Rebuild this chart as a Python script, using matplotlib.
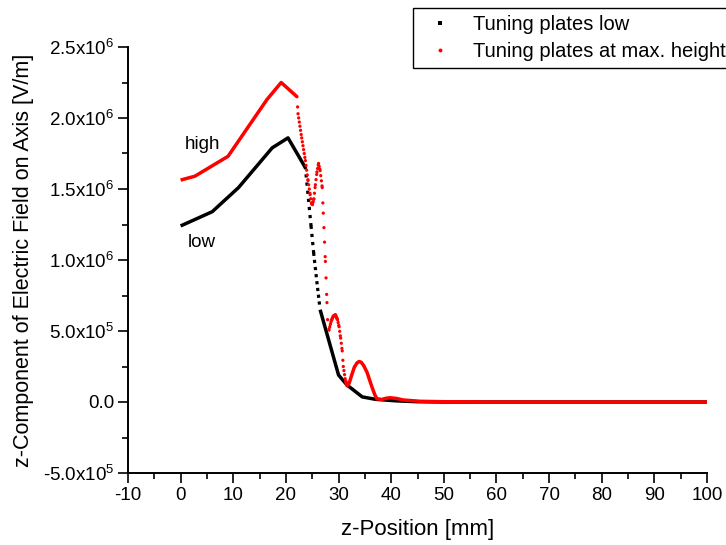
import numpy as np
import matplotlib
matplotlib.use("Agg")
import matplotlib.pyplot as plt
from matplotlib.lines import Line2D
from matplotlib.ticker import FuncFormatter, MultipleLocator

plt.rcParams["font.family"] = ["Liberation Sans", "DejaVu Sans"]
plt.rcParams["mathtext.fontset"] = "custom"
plt.rcParams["mathtext.rm"] = "Liberation Sans"
plt.rcParams["mathtext.it"] = "Liberation Sans"
plt.rcParams["axes.unicode_minus"] = False
plt.rcParams["lines.scale_dashes"] = False

# z-position [mm] and E_z on axis [V/m], tuning plates low
z_low = [0.0, 6.0, 11.0, 17.4, 20.4, 23.7, 24.3, 24.8, 25.3, 25.9, 26.5,
         30.0, 31.6, 34.5, 37.0, 41.0, 45.0, 50.0, 60.0, 70.0, 80.0, 90.0, 100.0]
e_low = [1.24e6, 1.34e6, 1.51e6, 1.79e6, 1.86e6, 1.65e6, 1.42e6, 1.23e6, 1.04e6,
         0.84e6, 0.65e6, 0.19e6, 0.12e6, 0.036e6, 0.019e6, 0.008e6, 0.002e6,
         0.0, 0.0, 0.0, 0.0, 0.0, 0.0]

# tuning plates at maximum height
z_high = [0.0, 2.7, 9.0, 16.4, 19.1, 22.1, 22.3, 23.0, 23.7, 24.2, 24.6, 24.85,
          25.05, 25.3, 25.6, 25.9, 26.2, 26.5, 26.9, 27.1, 27.5, 27.8, 28.0,
          28.2, 28.6, 29.0, 29.4, 29.8, 30.1, 30.4, 30.7, 30.9, 31.3, 31.6,
          32.0, 32.5, 33.0, 33.5, 33.9, 34.3, 34.8, 35.4, 35.9, 36.4, 36.9,
          37.3, 38.2, 39.0, 39.8, 41.0, 42.3, 45.5, 50.0, 60.0, 70.0, 80.0,
          90.0, 100.0]
e_high = [1.563e6, 1.59e6, 1.73e6, 2.13e6, 2.25e6, 2.15e6, 2.03e6, 1.86e6,
          1.70e6, 1.56e6, 1.46e6, 1.40e6, 1.39e6, 1.43e6, 1.53e6, 1.62e6,
          1.68e6, 1.63e6, 1.51e6, 1.33e6, 0.99e6, 0.70e6, 0.50e6, 0.51e6,
          0.57e6, 0.605e6, 0.615e6, 0.58e6, 0.53e6, 0.45e6, 0.36e6, 0.25e6,
          0.155e6, 0.115e6, 0.13e6, 0.19e6, 0.245e6, 0.275e6, 0.285e6, 0.28e6,
          0.255e6, 0.21e6, 0.155e6, 0.10e6, 0.05e6, 0.022e6, 0.018e6, 0.026e6,
          0.03e6, 0.025e6, 0.014e6, 0.005e6, 0.002e6, 0.0, 0.0, 0.0, 0.0, 0.0]

x_ticks = [-10, 0, 10, 20, 30, 40, 50, 60, 70, 80, 90, 100]
y_ticks = [-5e5, 0.0, 5e5, 1e6, 1.5e6, 2e6, 2.5e6]

W, H = 726, 545
fig = plt.figure(figsize=(W / 100, H / 100), dpi=100)
ax = fig.add_axes([128 / W, 1 - 473 / H, (707 - 128) / W, (473 - 47) / H])
ax.set_xlim(-10, 100)
ax.set_ylim(-5e5, 2.5e6)


def draw_series(z, e, color, cap, lw_line, lw_dot, step, zorder):
    """Solid polyline where the samples merge, separate dots on steep parts."""
    z = np.asarray(z, float)
    e = np.asarray(e, float)
    pts = ax.transData.transform(np.column_stack([z, e]))
    pt_per_px = 72 / fig.dpi
    run_x, run_y = [z[0]], [e[0]]

    def flush():
        if len(run_x) > 1:
            ax.plot(run_x, run_y, color=color, lw=lw_line,
                    solid_joinstyle="round", solid_capstyle="butt",
                    zorder=zorder, clip_on=False)

    for i in range(len(z) - 1):
        dx = pts[i + 1, 0] - pts[i, 0]
        dy = pts[i + 1, 1] - pts[i, 1]
        steep = abs(dy) > 4.0 * abs(dx)
        if steep:
            flush()
            run_x, run_y = [z[i + 1]], [e[i + 1]]
            n = max((z[i + 1] - z[i]) / step, 1.0)
            gap = np.hypot(dx, dy) / n * pt_per_px
            ax.plot([z[i], z[i + 1]], [e[i], e[i + 1]], color=color,
                    lw=lw_dot, linestyle=(0, (0.01, gap)),
                    dash_capstyle=cap, zorder=zorder)
        else:
            run_x.append(z[i + 1])
            run_y.append(e[i + 1])
    flush()


draw_series(z_low, e_low, "black", "projecting", 2.5, 2.3, 0.15, 3)
draw_series(z_high, e_high, "#ff0000", "round", 2.5, 2.4, 0.12, 4)

ax.text(0.8, 1.81e6, "high", fontsize=13.5, va="center", ha="left")
ax.text(1.4, 1.12e6, "low", fontsize=13.5, va="center", ha="left")


def sci_fmt(v, _pos):
    if v == 0:
        return "0.0"
    exp = int(np.floor(np.log10(abs(v))))
    mant = v / 10 ** exp
    return f"{mant:.1f}x10$^{{{exp}}}$"


ax.set_xticks(x_ticks)
ax.set_yticks(y_ticks)
ax.xaxis.set_minor_locator(MultipleLocator(5))
ax.yaxis.set_minor_locator(MultipleLocator(2.5e5))
ax.yaxis.set_major_formatter(FuncFormatter(sci_fmt))
ax.tick_params(which="major", direction="out", length=7, width=1.2,
               labelsize=13.5, pad=3)
ax.tick_params(which="minor", direction="out", length=4, width=1.2)

for side in ("top", "right"):
    ax.spines[side].set_visible(False)
for side in ("left", "bottom"):
    ax.spines[side].set_linewidth(1.4)

ax.set_xlabel("z-Position [mm]", fontsize=16, labelpad=11)
ax.set_ylabel("z-Component of Electric Field on Axis [V/m]", fontsize=15.5,
              labelpad=6)

handles = [
    Line2D([], [], ls="none", marker="s", ms=2.5, color="black", mew=0),
    Line2D([], [], ls="none", marker="o", ms=2.8, color="#ff0000", mew=0),
]
fig.legend(handles, ["Tuning plates low", "Tuning plates at max. height"],
           loc="upper left", bbox_to_anchor=(413 / W, 1 - 8 / H),
           fontsize=14.5, frameon=True, fancybox=False, edgecolor="black",
           framealpha=1, borderaxespad=0, borderpad=0.35, labelspacing=0.4,
           handlelength=2.0, handletextpad=0.65)
fig.legends[0].get_frame().set_linewidth(1.0)

fig.savefig("out.png", dpi=100)
